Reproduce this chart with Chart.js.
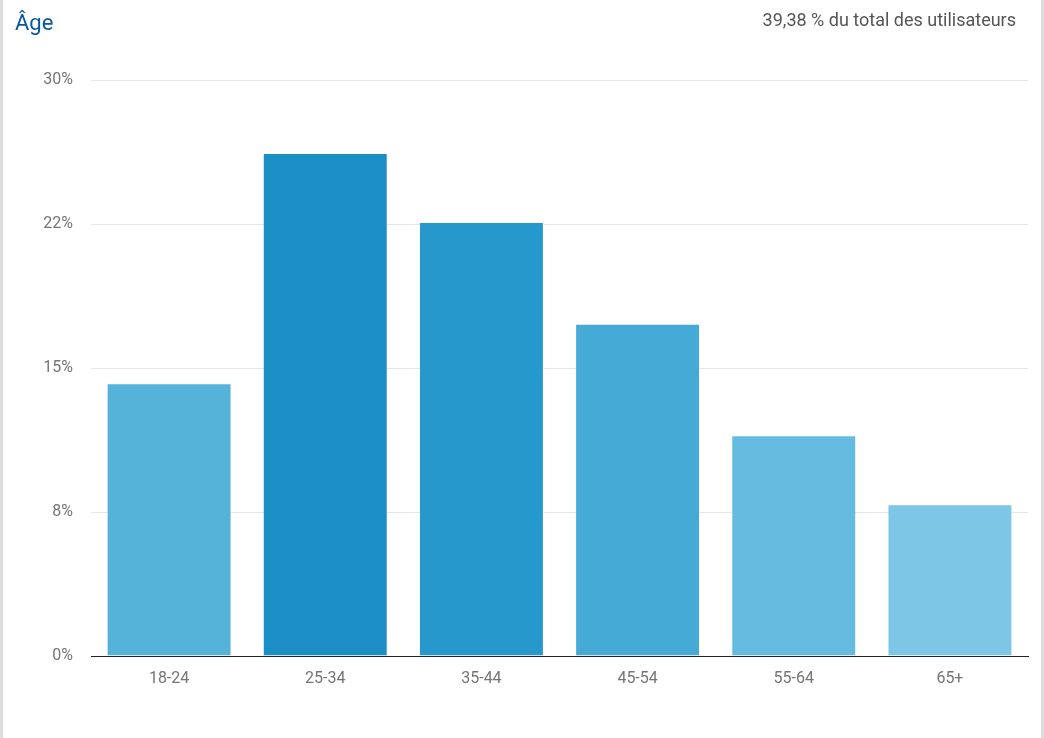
<!DOCTYPE html>
<html><head><meta charset="utf-8">
<script src="https://cdn.jsdelivr.net/npm/chart.js@4/dist/chart.umd.min.js"></script>
<style>
html,body{margin:0;padding:0;background:#fff;}
#wrap{position:relative;width:1044px;height:738px;overflow:hidden;}
#lb{position:absolute;left:0;top:0;width:3px;height:738px;background:#dcdcdc;}
#rb{position:absolute;right:0;top:0;width:3px;height:738px;background:#dcdcdc;}
#title{position:absolute;left:15px;top:10px;font-family:Roboto,sans-serif;font-size:22px;color:#0b57a0;}
#sub{position:absolute;right:28px;top:9px;font-family:Roboto,sans-serif;font-size:18px;color:#555;}
canvas{position:absolute;left:0;top:0;}
</style></head><body>
<div id="wrap">
<canvas id="c" width="1044" height="738"></canvas>
<div id="lb"></div><div id="rb"></div>
<div id="title">Âge</div>
<div id="sub">39,38 % du total des utilisateurs</div>
</div>
<script>
const categories = ['18-24','25-34','35-44','45-54','55-64','65+'];
const values = [14.2, 26.2, 22.6, 17.3, 11.5, 7.9];
const barColors = ['#55b3da','#1a8ec5','#2798cb','#45aad6','#66bbe0','#7dc6e6'];
const yTickLabels = ['0%','8%','15%','22%','30%'];

new Chart(document.getElementById('c'), {
  type: 'bar',
  data: {
    labels: categories,
    datasets: [{
      data: values,
      backgroundColor: barColors,
      borderColor: 'rgba(255,255,255,0.25)',
      borderWidth: 1,
      barPercentage: 0.8,
      categoryPercentage: 1.0
    }]
  },
  options: {
    responsive: false,
    animation: false,
    layout: { padding: { left: 0, right: 16, top: 80, bottom: 0 } },
    plugins: { legend: { display: false }, tooltip: { enabled: false } },
    scales: {
      x: {
        grid: { display: false },
        border: { display: true, color: '#222', width: 1 },
        ticks: { color: '#757575', font: { family: 'Roboto, sans-serif', size: 16 }, padding: 5 },
        afterFit: s => { s.height = 82; }
      },
      y: {
        min: 0, max: 30,
        ticks: {
          stepSize: 7.5,
          color: '#757575',
          font: { family: 'Roboto, sans-serif', size: 16 },
          padding: 18,
          callback: (v, i) => yTickLabels[i]
        },
        grid: { color: '#e5e5e5', drawTicks: false, lineWidth: 1 },
        border: { display: false },
        afterFit: s => { s.width = 91; }
      }
    }
  }
});
</script>
</body></html>
